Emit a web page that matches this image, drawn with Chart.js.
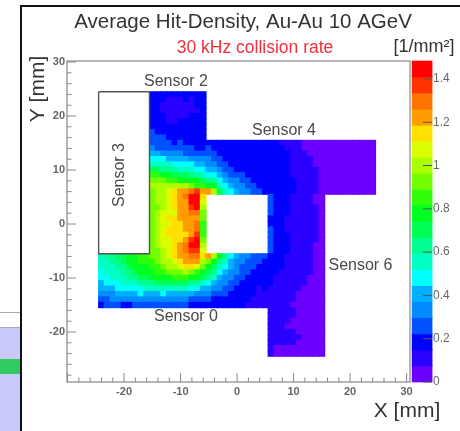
<!DOCTYPE html>
<html><head><meta charset="utf-8">
<style>
html,body{margin:0;padding:0;background:#fff;width:460px;height:431px;overflow:hidden}
#wrap{position:relative;width:460px;height:431px;filter:blur(0.7px)}
.d{position:absolute}
canvas{position:absolute;left:0;top:0}
</style>
<script src="https://cdn.jsdelivr.net/npm/chart.js@4"></script>
</head><body>
<div id="wrap">
<div class="d" style="left:20px;top:5px;width:440px;height:2px;background:#111"></div>
<div class="d" style="left:20px;top:5px;width:2px;height:426px;background:#111"></div>
<div class="d" style="left:0;top:312px;width:20px;height:1px;background:#aaa"></div>
<div class="d" style="left:0;top:327px;width:20px;height:104px;background:#c9c9fb;border-top:1px solid #aaa;box-sizing:border-box"></div>
<div class="d" style="left:0;top:359px;width:20px;height:15px;background:#2fca62"></div>
<canvas id="c" width="460" height="431"></canvas>
</div>
<script>
const titleText = "Average Hit-Density, Au-Au 10 AGeV";
const subtitleText = "30 kHz collision rate";
const unitText = "[1/mm²]";
const xTitle = "X [mm]", yTitle = "Y [mm]";
const xMajorTicks = [-30,-20,-10,0,10,20,30];
const xLabelTicks = [-20,-10,0,10,20,30];
const yMajorTicks = [-20,-10,0,10,20,30];
const minorTicks = [-28,-26,-24,-22,-18,-16,-14,-12,-8,-6,-4,-2,2,4,6,8,12,14,16,18,22,24,26,28];
const zTicks = [0,0.2,0.4,0.6,0.8,1,1.2,1.4];
const zEdges = [0,.074,.148,.222,.297,.371,.445,.519,.593,.667,.741,.816,.89,.964,1.038,1.112,1.186,1.26,1.335,1.409,1.483];
const palette = ["#6c00ff","#2a00ff","#0000ff","#0050ff","#008cff","#00b0ff","#00ffff","#00ffc4","#00ff90","#00ff54","#00ff20","#30ff0c","#74ff00","#aaff00","#dcff00","#ffe000","#ff9c00","#ff7400","#ff3200","#ff0000"];

// Sensor 2: x -15..-6, y 24..16
const sensor2Rows = [
[.19,.19,.19,.19,.19,.19,.19,.19,.19,.19],
[.19,.19,.19,.11,.11,.11,.19,.11,.19,.19],
[.19,.19,.11,.11,.11,.11,.11,.11,.19,.19],
[.19,.19,.11,.11,.11,.11,.11,.11,.11,.19],
[.19,.19,.19,.11,.11,.11,.11,.19,.19,.19],
[.19,.19,.19,.11,.11,.19,.19,.19,.19,.19],
[.19,.19,.19,.19,.19,.19,.19,.19,.19,.19],
[.26,.19,.19,.19,.19,.19,.19,.19,.19,.19],
[.26,.26,.26,.19,.19,.19,.19,.19,.19,.19]];
// Sensor 4 band: x -15..24, y 15..6
const upperBandRows = [
[.26,.26,.26,.26,.19,.26,.19,.19,.19,.19, .19,.19,.19,.19,.19,.19,.19,.19,.19,.19, .19,.19,.19,.11,.11,.11,.11,.04,.04,.04, .04,.04,.04,.04,.04,.04,.04,.04,.04,.04],
[.33,.26,.26,.26,.26,.26,.26,.26,.19,.19, .26,.19,.19,.19,.19,.19,.19,.19,.19,.19, .19,.19,.19,.19,.11,.11,.11,.04,.04,.04, .04,.04,.04,.04,.04,.04,.04,.04,.04,.04],
[.41,.41,.33,.33,.33,.33,.26,.26,.26,.26, .26,.26,.19,.19,.19,.19,.19,.19,.19,.19, .19,.19,.19,.19,.19,.11,.11,.11,.04,.04, .04,.04,.04,.04,.04,.04,.04,.04,.04,.04],
[.48,.48,.48,.41,.41,.41,.41,.33,.33,.33, .33,.26,.26,.19,.19,.19,.19,.19,.19,.19, .19,.19,.19,.19,.19,.11,.11,.11,.11,.04, .04,.04,.04,.04,.04,.04,.04,.04,.04,.04],
[.56,.56,.56,.56,.48,.48,.48,.48,.41,.41, .33,.33,.26,.26,.19,.19,.19,.19,.19,.19, .19,.19,.19,.19,.19,.11,.11,.11,.11,.04, .04,.04,.04,.04,.04,.04,.04,.04,.04,.04],
[.7,.7,.63,.63,.63,.56,.56,.56,.48,.48, .41,.41,.33,.26,.26,.19,.19,.19,.19,.19, .19,.19,.19,.19,.19,.11,.11,.11,.11,.11, .04,.04,.04,.04,.04,.04,.04,.04,.04,.04],
[.85,.85,.78,.78,.7,.7,.7,.63,.63,.56, .48,.48,.41,.33,.26,.26,.26,.19,.19,.19, .19,.19,.19,.19,.19,.11,.11,.11,.11,.11, .04,.04,.04,.04,.04,.04,.04,.04,.04,.04],
[.93,.93,.93,.85,.85,.78,.78,.78,.78,.7, .63,.63,.48,.41,.33,.33,.26,.26,.19,.19, .19,.19,.19,.19,.19,.19,.11,.11,.11,.11, .04,.04,.04,.04,.04,.04,.04,.04,.04,.04],
[1,1,1,1,1,1,1,.93,.85,.85, .78,.78,.56,.48,.41,.33,.33,.26,.26,.19, .19,.19,.19,.19,.19,.19,.11,.11,.11,.11, .04,.04,.04,.04,.04,.04,.04,.04,.04,.04],
[.93,1,1,1.08,1.15,1.22,1.22,1.3,1.37,1.22, 1.22,1,.7,.56,.48,.41,.33,.33,.26,.26, .19,.19,.19,.19,.19,.19,.11,.11,.11,.11, .04,.04,.04,.04,.04,.04,.04,.04,.04,.04]];
// Left of the hole: x -15..-6, y 5..-5
const midLeftRows = [
[.93,1,1,1.08,1.15,1.22,1.3,1.45,1.45,1.15],
[.93,1,1,1.08,1.15,1.22,1.22,1.45,1.45,1.08],
[.93,.93,1,1.08,1.15,1.22,1.22,1.37,1.45,1],
[.93,1,1.08,1.08,1.08,1.22,1.22,1.3,1.3,.93],
[.93,1,1.08,1.15,1.15,1.22,1.22,1.22,1.22,.93],
[.93,1,1.08,1.08,1.15,1.15,1.22,1.22,1.3,.85],
[.93,1,1.08,1.15,1.15,1.15,1.22,1.22,1.3,.85],
[.93,1,1.08,1.15,1.15,1.15,1.15,1.22,1.37,.85],
[.93,1,1.08,1.08,1.15,1.15,1.22,1.37,1.45,.93],
[.93,1,1.08,1.08,1.15,1.22,1.3,1.45,1.45,1],
[.93,.93,1,1.08,1.15,1.22,1.3,1.37,1.37,1.08]];
// Right of the hole: x 6..15, y 5..-5
const midRightRows = [
[.26,.19,.19,.19,.11,.11,.11,.11,.04,.04],
[.26,.19,.19,.19,.11,.11,.11,.11,.04,.04],
[.26,.19,.19,.19,.11,.11,.11,.11,.11,.04],
[.26,.19,.19,.19,.11,.11,.11,.11,.11,.04],
[.19,.19,.19,.11,.11,.11,.11,.11,.11,.04],
[.19,.19,.19,.11,.11,.11,.11,.11,.11,.04],
[.26,.19,.19,.11,.11,.11,.11,.11,.11,.04],
[.26,.19,.19,.19,.11,.11,.11,.11,.11,.04],
[.26,.19,.19,.19,.11,.11,.11,.11,.11,.04],
[.26,.19,.19,.19,.11,.11,.11,.11,.04,.04],
[.26,.19,.19,.19,.11,.11,.11,.11,.04,.04]];
// Sensor 0 band: x -24..15, y -6..-15
const lowerBandRows = [
[.56,.63,.63,.7,.7,.78,.78,.85,.85, .93,.93,1,1.08,1.15,1.22,1.22,1.3,1.3,1.15, 1.22,1,.78,.63,.48,.41,.33,.33,.26,.26, .26,.19,.19,.19,.11,.11,.11,.11,.11,.04,.04],
[.56,.56,.63,.63,.7,.78,.78,.85,.85, .85,.93,1,1,1.08,1.15,1.22,1.22,1.22,1, .93,.78,.63,.56,.41,.33,.33,.26,.26,.26, .19,.19,.19,.19,.11,.11,.11,.11,.11,.04,.04],
[.56,.56,.56,.63,.63,.7,.78,.78,.78, .85,.85,.93,1,1,1.08,1.15,1.15,1.08,.93, .78,.7,.56,.48,.41,.33,.26,.26,.26,.19, .19,.19,.19,.19,.11,.11,.11,.11,.11,.04,.04],
[.48,.56,.56,.56,.63,.63,.7,.78,.78, .78,.85,.85,.93,.93,.93,1,.93,.85,.78, .7,.63,.48,.41,.33,.33,.26,.26,.19,.19, .19,.19,.19,.11,.11,.11,.11,.11,.11,.04,.04],
[.48,.48,.56,.56,.56,.63,.63,.7,.7, .78,.78,.78,.78,.85,.85,.85,.78,.78,.7, .63,.56,.41,.33,.33,.26,.26,.19,.19,.19, .19,.19,.11,.11,.11,.11,.11,.11,.04,.04,.04],
[.41,.48,.48,.48,.56,.56,.56,.63,.63, .63,.7,.7,.7,.7,.7,.7,.63,.63,.56, .48,.41,.33,.33,.26,.26,.19,.19,.19,.19, .19,.19,.11,.11,.11,.11,.11,.11,.04,.04,.04],
[.41,.41,.41,.48,.48,.48,.48,.48,.56, .56,.56,.56,.56,.56,.56,.56,.48,.48,.41, .41,.33,.33,.26,.26,.19,.19,.19,.19,.11, .19,.11,.11,.11,.11,.11,.11,.04,.04,.04,.04],
[.33,.33,.33,.41,.41,.41,.41,.48,.41, .41,.41,.48,.41,.41,.41,.41,.41,.33,.33, .33,.26,.26,.26,.19,.19,.19,.19,.19,.11, .11,.11,.11,.11,.11,.11,.04,.04,.04,.04,.04],
[.26,.26,.33,.33,.33,.33,.33,.33,.33, .33,.33,.33,.33,.33,.33,.33,.26,.26,.26, .26,.19,.19,.19,.19,.19,.19,.19,.11,.11, .11,.11,.11,.11,.11,.11,.04,.04,.04,.04,.04],
[.19,.26,.26,.26,.19,.19,.26,.26,.26, .26,.26,.26,.26,.26,.26,.26,.19,.19,.19, .19,.19,.19,.19,.19,.19,.19,.11,.11,.11, .11,.11,.11,.11,.11,.04,.04,.04,.04,.04,.04]];
// Sensor 6 tail: x 6..15, y -16..-24
const sensor6Rows = [
[.11,.11,.11,.11,.11,.04,.04,.04,.04,.04],
[.11,.11,.11,.11,.11,.04,.04,.04,.04,.04],
[.11,.11,.11,.11,.04,.04,.04,.04,.04,.04],
[.11,.11,.11,.04,.04,.04,.04,.04,.04,.04],
[.11,.11,.11,.11,.11,.04,.04,.04,.04,.04],
[.11,.11,.11,.11,.11,.11,.04,.04,.04,.04],
[.11,.11,.11,.11,.11,.04,.04,.04,.04,.04],
[.11,.04,.04,.04,.04,.04,.04,.04,.04,.04],
[.11,.04,.04,.04,.04,.04,.04,.04,.04,.04]];
const sensor3OutlineX = [-24.5,-15.5,-15.5,-24.5,-24.5];
const sensor3OutlineY = [24.5,24.5,-5.5,-5.5,24.5];
const sensorLabels = ["Sensor 0","Sensor 2","Sensor 3","Sensor 4","Sensor 6"];

const segments = [
 {rows:sensor2Rows,x0:-15,yTop:24},
 {rows:upperBandRows,x0:-15,yTop:15},
 {rows:midLeftRows,x0:-15,yTop:5},
 {rows:midRightRows,x0:6,yTop:5},
 {rows:lowerBandRows,x0:-24,yTop:-6},
 {rows:sensor6Rows,x0:6,yTop:-16}];
function colorOf(v){let i=palette.length-1;while(i>0&&v<zEdges[i])i--;return palette[i];}
const heatData=[],heatColors=[];
segments.forEach(s=>s.rows.forEach((row,r)=>row.forEach((v,c)=>{
  const y=s.yTop-r;
  heatData.push({x:s.x0+c,y:[y-0.53,y+0.53],v});
  heatColors.push(colorOf(v));
})));
const COLORBAR_X=32.74;
const barData=palette.map((p,i)=>({x:COLORBAR_X,y:[zEdges[i],zEdges[i+1]+(i<19?.003:0)]}));

const FONT='"Liberation Sans", Arial, sans-serif';
const decor={id:'decor',
 afterDatasetsDraw(ch){
  const g=ch.ctx,a=ch.chartArea,X=ch.scales.x,Y=ch.scales.y,Z=ch.scales.z;
  g.save();
  g.strokeStyle='#999';g.lineWidth=1.4;
  g.strokeRect(a.left,a.top,a.right-a.left,a.bottom-a.top);
  g.lineWidth=1;g.strokeStyle='#888';
  const vt=(v,l)=>{const p=X.getPixelForValue(v);g.beginPath();g.moveTo(p,a.bottom);g.lineTo(p,a.bottom-l);g.stroke();};
  const ht=(v,l)=>{const p=Y.getPixelForValue(v);g.beginPath();g.moveTo(a.left,p);g.lineTo(a.left+l,p);g.stroke();};
  xMajorTicks.forEach(v=>vt(v,9));minorTicks.forEach(v=>vt(v,4.5));
  yMajorTicks.forEach(v=>ht(v,9));minorTicks.forEach(v=>ht(v,4.5));
  g.strokeStyle='#555';
  zTicks.forEach(v=>{const p=Z.getPixelForValue(v);g.beginPath();g.moveTo(423,p);g.lineTo(432,p);g.stroke();});
  g.textAlign='center';g.textBaseline='middle';
  g.fillStyle='#4a4a4a';g.font='16px '+FONT;
  g.fillText(sensorLabels[1],176,82);
  g.fillText(sensorLabels[3],284,131);
  g.fillText(sensorLabels[4],360.5,265.5);
  g.fillText(sensorLabels[0],186,317);
  g.save();g.translate(120,175);g.rotate(-Math.PI/2);g.fillText(sensorLabels[2],0,0);g.restore();
  g.fillStyle='#f0303c';g.font='17.5px '+FONT;g.fillText(subtitleText,255,48);
  g.fillStyle='#333';g.font='18px '+FONT;g.fillText(unitText,424,47);
  g.font='21px '+FONT;g.fillText(xTitle,407,411);
  g.save();g.translate(38,89);g.rotate(-Math.PI/2);g.fillText(yTitle,0,0);g.restore();
  g.restore();
 }};

new Chart(document.getElementById('c'),{
 data:{datasets:[
  {type:'bar',label:'Average hit density',data:heatData,backgroundColor:heatColors,xAxisID:'x',yAxisID:'y',
   barThickness:6.1,barPercentage:1,categoryPercentage:1,grouped:false,borderWidth:0,clip:false,order:3},
  {type:'line',label:'Sensor 3',data:sensor3OutlineX.map((x,i)=>({x,y:sensor3OutlineY[i]})),xAxisID:'x',yAxisID:'y',
   borderColor:'#555',borderWidth:1.4,pointRadius:0,tension:0,fill:false,clip:false,order:2},
  {type:'bar',label:'Colour scale',data:barData,backgroundColor:palette,xAxisID:'x',yAxisID:'z',
   barThickness:20,barPercentage:1,categoryPercentage:1,grouped:false,borderWidth:0,clip:false,order:1}
 ]},
 options:{
  responsive:false,animation:false,
  layout:{padding:{left:26,right:0,top:0,bottom:0}},
  plugins:{legend:{display:false},tooltip:{enabled:false},
   title:{display:true,text:titleText,color:'#333',font:{family:FONT,size:20.5,weight:'normal',lineHeight:1.2},padding:{top:10,bottom:26.4}}},
  scales:{
   x:{type:'linear',min:-30.1,max:30.6,offset:false,position:'bottom',
    grid:{display:false,offset:false,drawTicks:false},border:{display:false},
    afterBuildTicks(s){s.ticks=xLabelTicks.map(value=>({value}));},
    afterFit(s){s.height=49;},
    ticks:{autoSkip:false,maxRotation:0,color:'#666',padding:3,font:{family:FONT,size:11,weight:'bold'},callback:v=>String(v)}},
   y:{type:'linear',min:-29.26,max:30.19,position:'left',
    grid:{display:false,drawTicks:false},border:{display:false},
    afterBuildTicks(s){s.ticks=yMajorTicks.map(value=>({value}));},
    afterFit(s){s.width=41;},
    ticks:{autoSkip:false,color:'#666',padding:2,font:{family:FONT,size:11,weight:'bold'},callback:v=>String(v)}},
   z:{type:'linear',min:0,max:1.483,position:'right',
    grid:{display:false,drawTicks:false},border:{display:false},
    afterBuildTicks(s){s.ticks=zTicks.map(value=>({value}));},
    afterFit(s){s.width=50;},
    ticks:{autoSkip:false,color:'#666',padding:23,font:{family:FONT,size:12},callback:v=>String(v)}}
  }
 },
 plugins:[decor]
});
</script>
</body></html>
